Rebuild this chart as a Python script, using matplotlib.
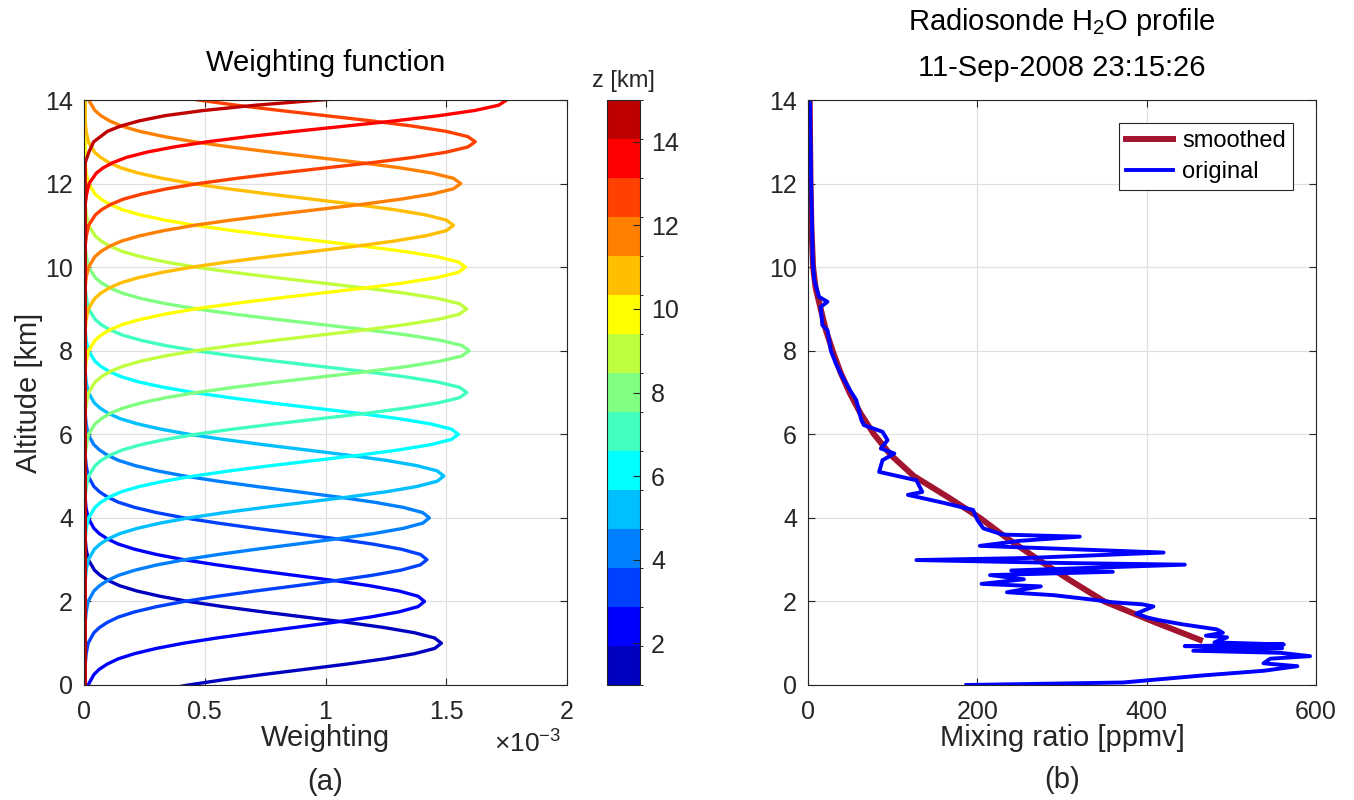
import numpy as np
import matplotlib
matplotlib.use('Agg')
import matplotlib.pyplot as plt
from matplotlib.colors import ListedColormap, BoundaryNorm
from matplotlib.cm import ScalarMappable

plt.rcParams['font.family'] = ['Liberation Sans', 'DejaVu Sans']
plt.rcParams['mathtext.fontset'] = 'custom'
plt.rcParams['mathtext.rm'] = 'Liberation Sans'
plt.rcParams['mathtext.it'] = 'Liberation Sans'

# ---- panel (a): weighting functions (values in units of 1e-3) ----
peak_km = [1, 2, 3, 4, 5, 6, 7, 8, 9, 10, 11, 12, 13, 14, 15]
# altitude of each sample relative to the peak altitude [km]
offset_km = [-15, -2.5, -2.25, -2, -1.75, -1.625, -1.5, -1.375, -1.25, -1.125, -1,
             -0.875, -0.75, -0.625, -0.5, -0.375, -0.25, -0.125, 0,
             0.125, 0.25, 0.375, 0.5, 0.625, 0.75, 0.875, 1, 1.125, 1.25, 1.375,
             1.5, 1.625, 1.75, 2, 2.25, 2.5, 15]
weights = [
    [0.005, 0.005, 0.009, 0.018, 0.043, 0.067, 0.101, 0.148, 0.219, 0.314, 0.432, 0.577,
     0.740, 0.915, 1.088, 1.243, 1.369, 1.452, 1.480, 1.452, 1.369, 1.243, 1.088, 0.915,
     0.740, 0.577, 0.432, 0.314, 0.219, 0.148, 0.101, 0.067, 0.043, 0.018, 0.009, 0.005, 0.005],
    [0.005, 0.005, 0.008, 0.017, 0.041, 0.063, 0.096, 0.141, 0.209, 0.299, 0.412, 0.550,
     0.705, 0.871, 1.036, 1.184, 1.304, 1.383, 1.410, 1.383, 1.304, 1.184, 1.036, 0.871,
     0.705, 0.550, 0.412, 0.299, 0.209, 0.141, 0.096, 0.063, 0.041, 0.017, 0.008, 0.005, 0.005],
    [0.005, 0.005, 0.009, 0.017, 0.041, 0.064, 0.097, 0.142, 0.210, 0.301, 0.415, 0.554,
     0.710, 0.878, 1.044, 1.193, 1.314, 1.393, 1.420, 1.393, 1.314, 1.193, 1.044, 0.878,
     0.710, 0.554, 0.415, 0.301, 0.210, 0.142, 0.097, 0.064, 0.041, 0.017, 0.009, 0.005, 0.005],
    [0.005, 0.005, 0.009, 0.017, 0.041, 0.064, 0.097, 0.143, 0.212, 0.303, 0.418, 0.558,
     0.715, 0.884, 1.051, 1.201, 1.323, 1.403, 1.430, 1.403, 1.323, 1.201, 1.051, 0.884,
     0.715, 0.558, 0.418, 0.303, 0.212, 0.143, 0.097, 0.064, 0.041, 0.017, 0.009, 0.005, 0.005],
    [0.005, 0.005, 0.009, 0.018, 0.043, 0.067, 0.101, 0.149, 0.221, 0.316, 0.435, 0.581,
     0.745, 0.921, 1.095, 1.252, 1.378, 1.462, 1.490, 1.462, 1.378, 1.252, 1.095, 0.921,
     0.745, 0.581, 0.435, 0.316, 0.221, 0.149, 0.101, 0.067, 0.043, 0.018, 0.009, 0.005, 0.005],
    [0.005, 0.005, 0.009, 0.019, 0.045, 0.070, 0.105, 0.155, 0.229, 0.329, 0.453, 0.605,
     0.775, 0.958, 1.139, 1.302, 1.434, 1.521, 1.550, 1.521, 1.434, 1.302, 1.139, 0.958,
     0.775, 0.605, 0.453, 0.329, 0.229, 0.155, 0.105, 0.070, 0.045, 0.019, 0.009, 0.005, 0.005],
    [0.005, 0.005, 0.010, 0.019, 0.046, 0.071, 0.108, 0.159, 0.235, 0.336, 0.463, 0.618,
     0.793, 0.980, 1.165, 1.331, 1.466, 1.555, 1.585, 1.555, 1.466, 1.331, 1.165, 0.980,
     0.793, 0.618, 0.463, 0.336, 0.235, 0.159, 0.108, 0.071, 0.046, 0.019, 0.010, 0.005, 0.005],
    [0.005, 0.005, 0.010, 0.019, 0.046, 0.072, 0.108, 0.160, 0.236, 0.338, 0.466, 0.622,
     0.798, 0.986, 1.172, 1.340, 1.475, 1.565, 1.595, 1.565, 1.475, 1.340, 1.172, 0.986,
     0.798, 0.622, 0.466, 0.338, 0.236, 0.160, 0.108, 0.072, 0.046, 0.019, 0.010, 0.005, 0.005],
    [0.005, 0.005, 0.010, 0.019, 0.046, 0.071, 0.108, 0.159, 0.235, 0.336, 0.463, 0.618,
     0.793, 0.980, 1.165, 1.331, 1.466, 1.555, 1.585, 1.555, 1.466, 1.331, 1.165, 0.980,
     0.793, 0.618, 0.463, 0.336, 0.235, 0.159, 0.108, 0.071, 0.046, 0.019, 0.010, 0.005, 0.005],
    [0.005, 0.005, 0.009, 0.019, 0.046, 0.071, 0.107, 0.158, 0.234, 0.335, 0.461, 0.616,
     0.790, 0.976, 1.161, 1.327, 1.462, 1.550, 1.580, 1.550, 1.462, 1.327, 1.161, 0.976,
     0.790, 0.616, 0.461, 0.335, 0.234, 0.158, 0.107, 0.071, 0.046, 0.019, 0.009, 0.005, 0.005],
    [0.005, 0.005, 0.009, 0.018, 0.044, 0.069, 0.104, 0.153, 0.226, 0.324, 0.447, 0.597,
     0.765, 0.946, 1.125, 1.285, 1.415, 1.501, 1.530, 1.501, 1.415, 1.285, 1.125, 0.946,
     0.765, 0.597, 0.447, 0.324, 0.226, 0.153, 0.104, 0.069, 0.044, 0.018, 0.009, 0.005, 0.005],
    [0.005, 0.005, 0.009, 0.019, 0.045, 0.070, 0.106, 0.156, 0.231, 0.331, 0.456, 0.608,
     0.780, 0.964, 1.147, 1.310, 1.443, 1.530, 1.560, 1.530, 1.443, 1.310, 1.147, 0.964,
     0.780, 0.608, 0.456, 0.331, 0.231, 0.156, 0.106, 0.070, 0.045, 0.019, 0.009, 0.005, 0.005],
    [0.005, 0.005, 0.010, 0.019, 0.047, 0.073, 0.110, 0.162, 0.240, 0.343, 0.473, 0.632,
     0.810, 1.001, 1.191, 1.361, 1.499, 1.589, 1.620, 1.589, 1.499, 1.361, 1.191, 1.001,
     0.810, 0.632, 0.473, 0.343, 0.240, 0.162, 0.110, 0.073, 0.047, 0.019, 0.010, 0.005, 0.005],
    [0.005, 0.005, 0.011, 0.021, 0.051, 0.079, 0.119, 0.175, 0.259, 0.371, 0.511, 0.683,
     0.875, 1.082, 1.286, 1.470, 1.619, 1.717, 1.750, 1.717, 1.619, 1.470, 1.286, 1.082,
     0.875, 0.683, 0.511, 0.371, 0.259, 0.175, 0.119, 0.079, 0.051, 0.021, 0.011, 0.005, 0.005],
    [0.005, 0.005, 0.020, 0.040, 0.097, 0.151, 0.228, 0.335, 0.496, 0.710, 0.978, 1.307,
     1.675, 2.070, 2.462, 2.814, 3.099, 3.286, 3.350, 3.286, 3.099, 2.814, 2.462, 2.070,
     1.675, 1.307, 0.978, 0.710, 0.496, 0.335, 0.228, 0.151, 0.097, 0.040, 0.020, 0.005, 0.005],
]

# ---- panel (b): radiosonde profile ----
smooth_ppmv = [463, 410, 350, 310, 272, 236, 203, 165, 125, 98, 78, 62, 49, 38, 29,
               21, 15, 9, 6, 4, 3, 2.5, 2]
smooth_alt = [1.08, 1.5, 2, 2.5, 3, 3.5, 4, 4.5, 5, 5.5, 6, 6.5, 7, 7.5, 8,
              8.5, 9, 9.5, 10, 11, 12, 13, 14]

orig_ppmv = [187, 372, 467, 538, 578, 538, 546, 593, 558, 455, 560, 445, 562, 480,
             495, 470, 490, 483, 443, 415, 400, 388, 408, 395, 360, 333, 290, 235,
             275, 205, 255, 215, 360, 240, 445, 300, 128, 260, 420, 203, 250, 321,
             230, 207, 200, 195, 160, 118, 135, 128, 84, 88, 102, 86, 94, 88, 66,
             63, 57, 51, 40, 33, 27, 23, 17, 15, 23, 13, 7.4, 5.5, 4.7, 3.5, 2.3]
orig_alt = [0.0, 0.06, 0.23, 0.34, 0.45, 0.52, 0.63, 0.69, 0.77, 0.82, 0.88, 0.93,
            0.97, 1.02, 1.14, 1.18, 1.25, 1.33, 1.45, 1.55, 1.62, 1.71, 1.88, 1.93,
            1.98, 2.05, 2.15, 2.22, 2.36, 2.42, 2.53, 2.63, 2.71, 2.74, 2.88, 2.92,
            2.99, 3.04, 3.17, 3.33, 3.45, 3.55, 3.6, 3.75, 3.95, 4.19, 4.36, 4.55,
            4.62, 4.9, 5.1, 5.38, 5.54, 5.66, 5.86, 6.06, 6.22, 6.34, 6.82, 7.01,
            7.4, 7.69, 8.0, 8.49, 8.61, 9.05, 9.17, 9.29, 9.69, 10.17, 11.04, 12.24,
            14.0]

# MATLAB jet(15)
jet15 = [(0, 0, 0.75), (0, 0, 1), (0, 0.25, 1), (0, 0.5, 1), (0, 0.75, 1),
         (0, 1, 1), (0.25, 1, 0.75), (0.5, 1, 0.5), (0.75, 1, 0.25), (1, 1, 0),
         (1, 0.75, 0), (1, 0.5, 0), (1, 0.25, 0), (1, 0, 0), (0.75, 0, 0)]

W, H = 1354, 800
DARK = (0.15, 0.15, 0.15)
GRID = (0.88, 0.88, 0.88)


def _style(ax):
    ax.set_axisbelow(True)
    ax.grid(True, color=GRID, linewidth=0.9)
    for s in ax.spines.values():
        s.set_color(DARK)
        s.set_linewidth(0.8)
    ax.tick_params(direction='in', length=5, width=0.8, color=DARK,
                   labelcolor=DARK, labelsize=18, top=True, right=True)
    ax.tick_params(axis='x', pad=11)
    ax.tick_params(axis='y', pad=8)


fig = plt.figure(figsize=(W / 100, H / 100), dpi=100)
ax1 = fig.add_axes([84 / W, 115 / H, 483 / W, 585 / H])
cax = fig.add_axes([607 / W, 115 / H, 33 / W, 585 / H])
ax2 = fig.add_axes([808 / W, 115 / H, 508 / W, 585 / H])

# (a)
for k, zp in enumerate(peak_km):
    alt = np.array(offset_km) + zp
    ax1.plot(weights[k], alt, color=jet15[k], linewidth=2.4, solid_joinstyle='round')
ax1.set_xlim(0, 2)
ax1.set_ylim(0, 14)
ax1.set_xticks([0, 0.5, 1, 1.5, 2])
ax1.set_xticklabels(['0', '0.5', '1', '1.5', '2'])
ax1.set_yticks(range(0, 15, 2))
_style(ax1)
ax1.set_title('Weighting function', fontsize=21, color='black', pad=21)
ax1.set_xlabel('Weighting', fontsize=21, color=DARK)
ax1.xaxis.set_label_coords(0.5, -0.066)
ax1.set_ylabel('Altitude [km]', fontsize=21, color=DARK)
ax1.yaxis.set_label_coords(-0.085, 0.5)
fig.text(494 / W, 1 - 753 / H, r'$\times10^{-3}$', fontsize=19, color=DARK,
         ha='left', va='baseline')
fig.text(325 / W, 1 - 782 / H, '(a)', fontsize=21, color=DARK, ha='center', va='center')

# colorbar
cmap = ListedColormap(jet15)
norm = BoundaryNorm(np.linspace(1, 15, 16), cmap.N)
cb = fig.colorbar(ScalarMappable(norm=norm, cmap=cmap), cax=cax)
cb.set_ticks([2, 4, 6, 8, 10, 12, 14])
cb.outline.set_edgecolor(DARK)
cb.outline.set_linewidth(0.8)
cax.tick_params(direction='in', length=5, width=0.8, color=DARK, labelcolor=DARK,
                labelsize=18, pad=8)
cax.set_title('z [km]', fontsize=17, color=DARK, pad=9)

# (b)
ax2.plot(smooth_ppmv, smooth_alt, color=(0.635, 0.078, 0.184), linewidth=4.3,
         label='smoothed')
ax2.plot(orig_ppmv, orig_alt, color=(0, 0, 1), linewidth=2.8, label='original',
         solid_joinstyle='round')
ax2.set_xlim(0, 600)
ax2.set_ylim(0, 14)
ax2.set_xticks([0, 200, 400, 600])
ax2.set_yticks(range(0, 15, 2))
_style(ax2)
ax2.set_xlabel('Mixing ratio [ppmv]', fontsize=21, color=DARK)
ax2.xaxis.set_label_coords(0.5, -0.066)
ax2.text(0.5, 1.054, '11-Sep-2008 23:15:26', transform=ax2.transAxes, fontsize=21,
         ha='center', va='center')
ax2.text(0.5, 1.133, r'Radiosonde H$_2$O profile', transform=ax2.transAxes,
         fontsize=21, ha='center', va='center')
fig.text(1062 / W, 1 - 780 / H, '(b)', fontsize=21, color=DARK, ha='center', va='center')
leg = ax2.legend(loc='upper right', bbox_to_anchor=(0.955, 0.961), borderaxespad=0,
                 fontsize=17, handlelength=2.0, handletextpad=0.4, fancybox=False,
                 framealpha=1, edgecolor=DARK, labelspacing=0.4, borderpad=0.3)
leg.get_frame().set_linewidth(0.8)

fig.savefig('out.png', dpi=100)
